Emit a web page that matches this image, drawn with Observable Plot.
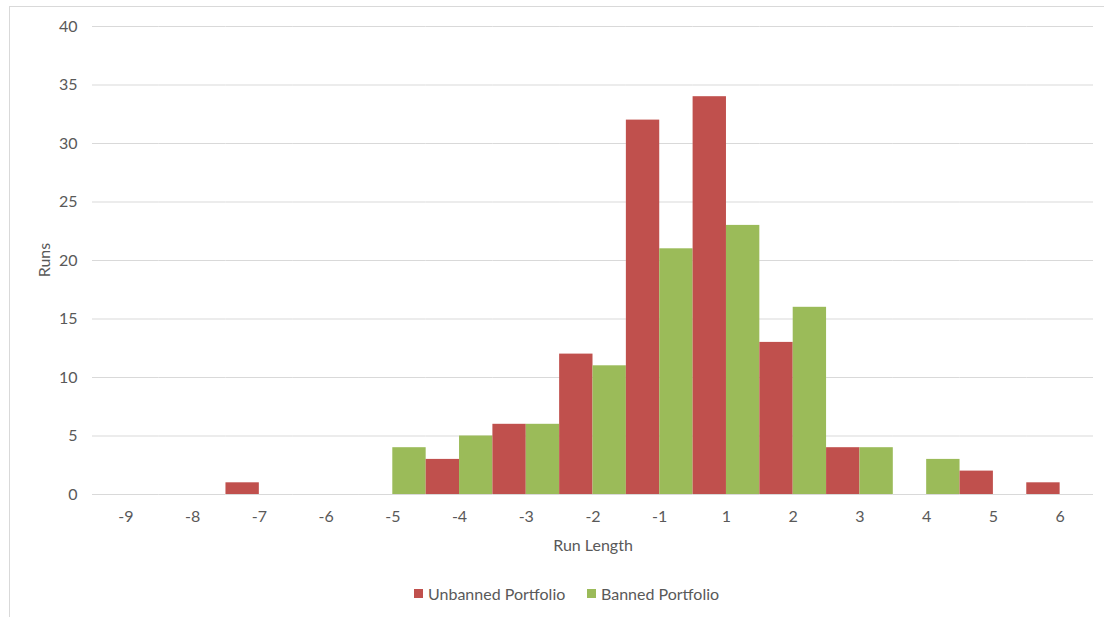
<!DOCTYPE html>
<html>
<head>
<meta charset="utf-8">
<script src="https://cdn.jsdelivr.net/npm/d3@7"></script>
<script src="https://cdn.jsdelivr.net/npm/@observablehq/plot@0.6"></script>
<style>
  html, body { margin: 0; padding: 0; background: #fff; overflow: hidden; }
  #wrap { position: relative; width: 1104px; height: 617px; font-family: Lato, "Open Sans", sans-serif; color: #595959; }
  #frame { position: absolute; left: 9px; top: 6px; width: 1110px; height: 630px; border: 1px solid #d9d9d9; box-sizing: border-box; }
  #chart { position: absolute; left: 0; top: 0; }
  #ylabel { position: absolute; left: 43px; top: 260px; font-size: 16px; transform: translate(-50%, -50%) rotate(-90deg); white-space: nowrap; }
  #legend { position: absolute; top: 583px; left: 0; width: 1104px; height: 20px; font-size: 16px; }
  .item { position: absolute; top: 0; display: flex; align-items: center; height: 20px; }
  .sw { width: 9px; height: 9px; margin-right: 5px; }
</style>
</head>
<body>
<div id="wrap">
  <div id="frame"></div>
  <div id="chart"></div>
  <div id="ylabel">Runs</div>
  <div id="legend"></div>
</div>
<script>
// Run lengths (categories) and run counts per portfolio
const runLengths = ["-9", "-8", "-7", "-6", "-5", "-4", "-3", "-2", "-1", "1", "2", "3", "4", "5", "6"];
const unbanned   = [0, 0, 1, 0, 0, 3, 6, 12, 32, 34, 13, 4, 0, 2, 1];
const banned     = [0, 0, 0, 0, 4, 5, 6, 11, 21, 23, 16, 4, 3, 0, 0];
const seriesNames = ["Unbanned Portfolio", "Banned Portfolio"];
const seriesColors = ["#C0504D", "#9BBB59"];
const yTicks = [0, 5, 10, 15, 20, 25, 30, 35, 40];

const rows = runLengths.flatMap((len, i) => [
  {len, series: seriesNames[0], runs: unbanned[i]},
  {len, series: seriesNames[1], runs: banned[i]}
]);

const chart = Plot.plot({
  width: 1104,
  height: 560,
  marginTop: 26,
  marginBottom: 66,
  marginLeft: 92,
  marginRight: 11,
  style: {fontFamily: "Lato, 'Open Sans', sans-serif", fontSize: "16px", color: "#595959", background: "transparent"},
  fx: {domain: runLengths, padding: 0, round: false, axis: "bottom", tickSize: 0, tickPadding: 16,
       label: "Run Length", labelAnchor: "center", labelOffset: 56},
  x: {domain: seriesNames, padding: 0, round: false, axis: null},
  y: {domain: [0, 40], ticks: yTicks, tickSize: 0, tickPadding: 15, label: null},
  color: {domain: seriesNames, range: seriesColors},
  marks: [
    Plot.ruleY(yTicks, {stroke: "#d9d9d9", strokeWidth: 1}),
    Plot.barY(rows, {fx: "len", x: "series", y: "runs", fill: "series", inset: 0})
  ]
});
document.getElementById("chart").appendChild(chart);

// Legend below the plot
const legend = document.getElementById("legend");
const legendX = [414, 587];
seriesNames.forEach((name, i) => {
  const item = document.createElement("div");
  item.className = "item";
  item.style.left = legendX[i] + "px";
  const sw = document.createElement("span");
  sw.className = "sw";
  sw.style.background = seriesColors[i];
  const label = document.createElement("span");
  label.textContent = name;
  item.appendChild(sw);
  item.appendChild(label);
  legend.appendChild(item);
});
</script>
</body>
</html>
